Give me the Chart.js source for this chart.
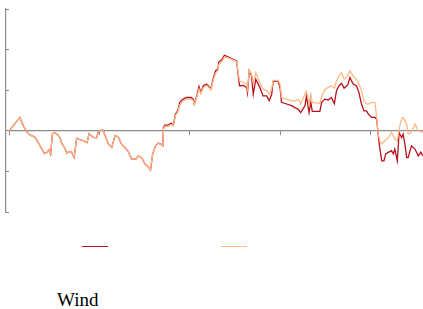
<!DOCTYPE html>
<html>
<head>
<meta charset="utf-8">
<script src="https://cdn.jsdelivr.net/npm/chart.js@4"></script>
<style>
  body { margin: 0; background: #fff; width: 423px; height: 309px; position: relative; overflow: hidden; }
  #chart { position: absolute; left: 0; top: 0; }
  .legend { position: absolute; left: 0; top: 246px; width: 423px; height: 4px; }
  .legend span { position: absolute; top: 0; width: 26px; height: 0; border-top: 1.5px solid; }
  .caption { position: absolute; left: 57px; top: 290px; font: 19px/19px "Liberation Serif", serif; color: #000; }
</style>
</head>
<body>
<canvas id="chart" width="423" height="216"></canvas>
<div class="legend" id="legend"></div>
<div class="caption">Wind</div>
<script>
// x positions (time index, one axis tick every 25)
const xPos = [
  0, 1.4, 3.0, 4.0, 4.8, 5.8, 7.2, 8.1, 9.0, 9.8, 10.5, 11.0, 11.5, 12.0, 12.7, 13.5, 14.1, 14.6, 15.3, 16.0,
  16.6, 17.3, 18.0, 18.7, 19.6, 20.6, 21.6, 22.1, 23.3, 24.2, 24.7, 25.6, 26.0, 26.8, 27.5, 28.4, 29.3, 30.2, 31.1, 32.0,
  33.0, 33.9, 35.1, 35.7, 36.7, 37.6, 38.5, 39.1, 39.7, 40.5, 41.3, 42.0, 42.5, 42.7, 43.1, 44.0, 44.8, 45.4, 46.0, 46.6,
  47.2, 48.1, 49.1, 50.3, 50.9, 51.2, 51.9, 52.5, 53.0, 53.7, 54.6, 55.2, 55.8, 56.4, 57.1, 57.7, 58.0, 58.8, 59.5, 60.4,
  61.5, 62.9, 63.3, 63.7, 64.7, 65.7, 65.9, 66.4, 67.0, 67.5, 68.2, 69.3, 70.2, 71.2, 71.9, 72.6, 73.0, 74.3, 74.9, 75.3,
  76.7, 78.1, 79.0, 79.9, 80.6, 81.8, 82.2, 82.9, 83.4, 83.8, 84.5, 85.9, 86.4, 87.3, 88.2, 89.1, 89.9, 90.5, 91.2, 91.9,
  92.6, 93.6, 94.2, 95.1, 96.0, 96.7, 97.4, 98.1, 98.8, 99.3, 100.2, 101.1, 101.6, 102.0, 102.5, 103.0, 103.6, 104.1, 104.8, 105.7,
  106.2, 106.6, 107.3, 107.8, 108.5, 108.9, 109.4, 109.9, 110.3, 111.2, 112.2, 113.1, 113.8, 114.4
];

// dark red series
const seriesDark = [
  -0.01, 0.15, 0.33, 0.12, -0.02, -0.10, -0.16, -0.29, -0.44, -0.56, -0.53, -0.47, -0.58, -0.07, -0.05, -0.10, -0.17, -0.31, -0.41, -0.55,
  -0.51, -0.53, -0.66, -0.18, -0.22, -0.25, -0.29, -0.07, -0.16, -0.17, -0.02, 0.02, 0.01, -0.17, -0.33, -0.41, -0.12, -0.15, -0.33, -0.41,
  -0.52, -0.70, -0.70, -0.62, -0.67, -0.82, -0.89, -0.97, -0.57, -0.37, -0.30, -0.33, -0.37, 0.08, 0.14, 0.14, 0.19, 0.14, 0.41, 0.49,
  0.70, 0.78, 0.82, 0.82, 0.78, 0.66, 0.86, 1.09, 0.94, 1.11, 1.15, 1.09, 1.03, 1.27, 1.48, 1.52, 1.70, 1.75, 1.86, 1.83,
  1.78, 1.72, 1.40, 1.11, 1.12, 1.07, 0.94, 1.48, 1.37, 0.90, 1.27, 1.07, 0.86, 0.86, 0.74, 0.90, 1.22, 1.23, 1.07, 0.70,
  0.66, 0.62, 0.57, 0.53, 0.45, 0.62, 0.86, 0.45, 0.70, 0.48, 0.48, 0.48, 0.70, 0.78, 0.76, 0.82, 0.67, 0.99, 1.11, 1.17,
  1.05, 1.13, 1.31, 1.15, 1.11, 0.94, 0.66, 0.49, 0.49, 0.41, 0.33, 0.33, 0.29, -0.08, -0.45, -0.74, -0.74, -0.57, -0.53, -0.49,
  -0.57, -0.45, -0.74, -0.04, -0.17, -0.08, -0.33, -0.66, -0.66, -0.37, -0.45, -0.62, -0.53, -0.62
];

// light orange series
const seriesLight = [
  -0.01, 0.15, 0.33, 0.12, -0.02, -0.10, -0.16, -0.29, -0.44, -0.56, -0.53, -0.47, -0.57, -0.07, -0.05, -0.10, -0.17, -0.31, -0.41, -0.55,
  -0.51, -0.53, -0.65, -0.18, -0.22, -0.25, -0.29, -0.07, -0.16, -0.17, -0.02, 0.02, 0.01, -0.17, -0.33, -0.41, -0.12, -0.15, -0.33, -0.41,
  -0.52, -0.70, -0.70, -0.62, -0.67, -0.82, -0.89, -0.97, -0.57, -0.37, -0.31, -0.34, -0.37, 0.05, 0.11, 0.11, 0.16, 0.12, 0.37, 0.46,
  0.64, 0.74, 0.78, 0.78, 0.75, 0.64, 0.83, 1.03, 0.92, 1.06, 1.12, 1.07, 1.01, 1.23, 1.42, 1.48, 1.64, 1.70, 1.81, 1.80,
  1.76, 1.71, 1.45, 1.23, 1.19, 1.15, 1.03, 1.48, 1.40, 1.18, 1.43, 1.18, 1.03, 0.99, 0.90, 1.03, 1.24, 1.24, 1.16, 0.82,
  0.78, 0.74, 0.73, 0.78, 0.66, 0.91, 0.97, 0.67, 0.90, 0.70, 0.69, 0.68, 0.84, 1.02, 1.07, 1.11, 1.05, 1.23, 1.35, 1.44,
  1.27, 1.35, 1.48, 1.35, 1.27, 1.15, 0.99, 0.74, 0.66, 0.66, 0.70, 0.70, 0.33, -0.08, -0.25, -0.33, -0.27, -0.22, -0.17, -0.04,
  -0.12, -0.20, -0.25, 0.05, 0.30, 0.33, 0.25, 0.17, -0.08, -0.04, 0.17, 0.00, -0.02, -0.04
];

const yTicks = [-2, -1, 0, 1, 2, 3];

const DARK = "#b80f1c";
const LIGHT = "#fdb986";
const AXIS = "#8a8a8a";

const toPoints = (vals) => xPos.map((x, i) => ({ x, y: vals[i] }));

const chart = new Chart(document.getElementById("chart"), {
  type: "line",
  data: {
    datasets: [
      { label: "", data: toPoints(seriesDark), borderColor: DARK, borderWidth: 1.3, pointRadius: 0, order: 1 },
      { label: "", data: toPoints(seriesLight), borderColor: LIGHT, borderWidth: 1.3, pointRadius: 0, order: 0 },
    ],
  },
  options: {
    responsive: false,
    animation: false,
    layout: { padding: { left: 9, top: 9, right: 0, bottom: 4 } },
    plugins: { legend: { display: false }, tooltip: { enabled: false } },
    scales: {
      x: {
        type: "linear",
        min: 0,
        max: 114.4,
        position: { y: 0 },
        ticks: { display: false, stepSize: 25, includeBounds: false },
        grid: { drawOnChartArea: false, tickLength: 4, color: AXIS },
        border: { color: AXIS, width: 1.2 },
      },
      y: {
        min: yTicks[0],
        max: yTicks[yTicks.length - 1],
        ticks: { display: false, stepSize: 1 },
        grid: { drawOnChartArea: false, tickLength: -3, color: AXIS },
        border: { color: AXIS, width: 1.2 },
      },
    },
  },
});

// legend samples, colours taken from the datasets (dark first)
const legend = document.getElementById("legend");
[82, 221].forEach((left, i) => {
  const s = document.createElement("span");
  s.style.left = left + "px";
  s.style.borderColor = chart.data.datasets[i].borderColor;
  legend.appendChild(s);
});
</script>
</body>
</html>
